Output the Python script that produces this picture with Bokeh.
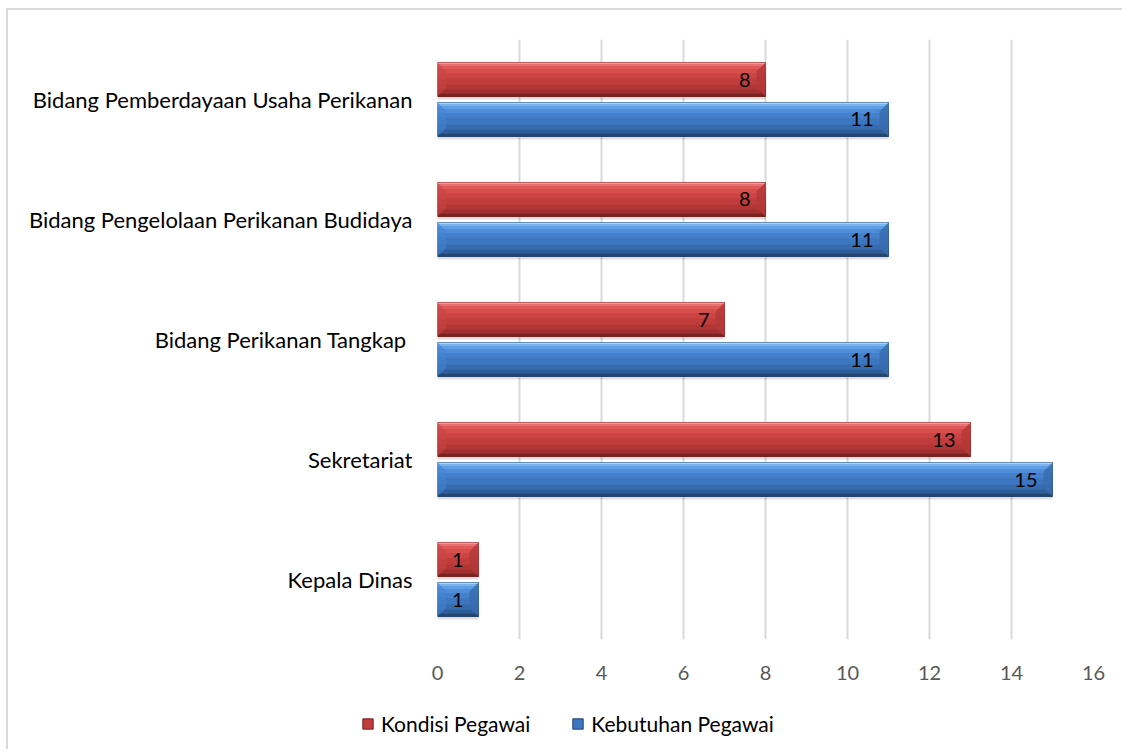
from bokeh.plotting import figure
from bokeh.models import ColumnDataSource, Legend, LegendItem, FactorRange
from bokeh.layouts import column, row
from bokeh.transform import dodge
from bokeh.core.properties import value
from bokeh.embed import file_html
from bokeh.resources import INLINE

categories = ["Kepala Dinas", "Sekretariat", "Bidang Perikanan Tangkap ",
              "Bidang Pengelolaan Perikanan Budidaya", "Bidang Pemberdayaan Usaha Perikanan"]
kondisi = [1, 13, 7, 8, 8]
kebutuhan = [1, 15, 11, 11, 11]
x_ticks = [0, 2, 4, 6, 8, 10, 12, 14, 16]
series_names = ["Kondisi Pegawai", "Kebutuhan Pegawai"]

FONT = "Lato"
src = ColumnDataSource(data=dict(cat=categories, kondisi=kondisi, kebutuhan=kebutuhan,
                                 lk=[str(v) for v in kondisi], lb=[str(v) for v in kebutuhan]))

p = figure(width=1114, height=689, y_range=FactorRange(factors=categories), x_range=(0, 16),
           output_backend="svg", toolbar_location=None,
           min_border_left=429, min_border_right=29, min_border_top=29, min_border_bottom=60)

px = 1.0 / 120.0      # one screen pixel in category units
pxx = 16.0 / 656.0    # one screen pixel in value units
H = 34 * px
red_bands = [(0, 2, "#f59a9a"), (2, 4, "#ee7474"), (4, 7, "#e25a5a"), (7, 11, "#d84d4d"),
             (11, 16, "#cc4444"), (16, 22, "#c13d3d"), (22, 27, "#b33636"), (27, 31, "#a02f2f"),
             (31, 34, "#7a2222")]
blue_bands = [(0, 2, "#a8d6f8"), (2, 4, "#7dbaf0"), (4, 7, "#5f9fe5"), (7, 11, "#4f8ddb"),
              (11, 16, "#4480cc"), (16, 22, "#3c76c0"), (22, 27, "#366bb0"), (27, 31, "#2f5d99"),
              (31, 34, "#22446f")]

def draw(fig, field, vals, center, bands, face_right, face_left):
    top = center + H / 2
    fig.hbar(y=dodge("cat", center - 3 * px, range=fig.y_range), left=0, right=field, height=H,
             source=src, fill_color="#000000", fill_alpha=0.12, line_color=None)
    base = fig.hbar(y=dodge("cat", center, range=fig.y_range), left=0, right=field, height=H,
                    source=src, fill_color=bands[5][2], line_color=bands[-1][2], line_width=1)
    for t, b, c in bands:
        h = (b - t) * px
        yc = top - (t * px) - h / 2
        fig.hbar(y=dodge("cat", yc, range=fig.y_range), left=0, right=field, height=h,
                 source=src, fill_color=c, line_color=None)
    # bevelled end faces, derived from the bar values
    w = 9 * pxx
    e = 9 * px
    xs_r, ys_r, xs_l, ys_l = [], [], [], []
    for i, v in enumerate(vals):
        yt = i + 0.5 + center + H / 2
        yb = i + 0.5 + center - H / 2
        xs_r.append([v - w, v, v, v - w])
        ys_r.append([yt - e, yt, yb, yb + e])
        xs_l.append([0, w, w, 0])
        ys_l.append([yt, yt - e, yb + e, yb])
    fig.patches(xs_r, ys_r, fill_color=face_right, fill_alpha=0.85, line_color=None)
    fig.patches(xs_l, ys_l, fill_color=face_left, fill_alpha=0.6, line_color=None)
    return base

red_c = 20 * px
blue_c = -20 * px
draw(p, "kondisi", kondisi, red_c, red_bands, "#b43838", "#c84545")
draw(p, "kebutuhan", kebutuhan, blue_c, blue_bands, "#3a6cae", "#4682cf")

p.text(x="kondisi", y=dodge("cat", red_c, range=p.y_range), text="lk", source=src,
       text_align="right", text_baseline="middle", x_offset=-15,
       text_font=value(FONT), text_font_size="20px", text_color="#000000")
p.text(x="kebutuhan", y=dodge("cat", blue_c, range=p.y_range), text="lb", source=src,
       text_align="right", text_baseline="middle", x_offset=-15,
       text_font=value(FONT), text_font_size="20px", text_color="#000000")

p.xaxis.ticker = x_ticks
p.xaxis.axis_line_color = None
p.xaxis.major_tick_line_color = None
p.xaxis.minor_tick_line_color = None
p.xaxis.major_label_text_font = FONT
p.xaxis.major_label_text_font_size = "20px"
p.xaxis.major_label_text_color = "#595959"
p.xaxis.major_label_standoff = 20

p.yaxis.axis_line_color = None
p.yaxis.major_tick_line_color = None
p.yaxis.major_label_text_font = FONT
p.yaxis.major_label_text_font_size = "22px"
p.yaxis.major_label_text_color = "#000000"
p.yaxis.major_label_standoff = 19

p.xgrid.grid_line_color = "#d9d9d9"
p.xgrid.grid_line_width = 2
p.ygrid.grid_line_color = None
p.outline_line_color = None

# legend strip below the chart
lg = figure(width=1114, height=50, y_range=FactorRange(factors=categories), x_range=(0, 16),
            output_backend="svg", toolbar_location=None, x_axis_type=None, y_axis_type=None,
            min_border=0)
lg.grid.grid_line_color = None
lg.outline_line_color = None
lr = lg.hbar(y="cat", right="kondisi", height=H, source=src, fill_color="#c13d3d",
             line_color="#7a2222", visible=False)
lb = lg.hbar(y="cat", right="kebutuhan", height=H, source=src, fill_color="#3c76c0",
             line_color="#22446f", visible=False)
legend = Legend(items=[LegendItem(label=series_names[0], renderers=[lr]),
                       LegendItem(label=series_names[1], renderers=[lb])],
                orientation="horizontal", location=(353, 13),
                glyph_width=13, glyph_height=13, label_standoff=7, spacing=41,
                padding=0, margin=0, border_line_color=None, background_fill_alpha=0,
                inactive_fill_alpha=0,
                label_text_font=FONT, label_text_font_size="21px", label_text_color="#000000")
lg.add_layout(legend, "center")

layout = column(p, row(lg), spacing=0)
layout.styles = {"margin-left": "6px", "margin-top": "8px",
                 "border-top": "2px solid #d9d9d9", "border-left": "2px solid #d9d9d9"}

open("out.html", "w").write(file_html(layout, INLINE))
